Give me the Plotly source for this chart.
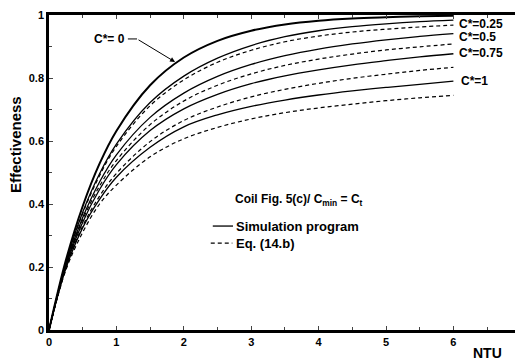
import plotly.graph_objects as go

ntu = [0, 0.25, 0.5, 0.75, 1, 1.5, 2, 2.5, 3, 3.5, 4, 4.5, 5, 5.5, 6]

# C* = 0 (simulation and equation coincide)
c0 = [0, 0.221, 0.393, 0.528, 0.632, 0.777, 0.865, 0.918, 0.950, 0.970, 0.982, 0.989, 0.993, 0.996, 0.9975]

sim_025 = [0, 0.214, 0.374, 0.496, 0.590, 0.722, 0.806, 0.863, 0.903, 0.931, 0.950, 0.963, 0.972, 0.979, 0.984]
sim_050 = [0, 0.207, 0.357, 0.470, 0.556, 0.675, 0.752, 0.805, 0.843, 0.871, 0.892, 0.908, 0.921, 0.932, 0.941]
sim_075 = [0, 0.202, 0.342, 0.446, 0.525, 0.633, 0.702, 0.748, 0.782, 0.807, 0.826, 0.842, 0.855, 0.867, 0.877]
sim_100 = [0, 0.195, 0.325, 0.415, 0.485, 0.580, 0.645, 0.683, 0.710, 0.730, 0.746, 0.759, 0.770, 0.780, 0.790]

eq_025 = [0, 0.212, 0.370, 0.490, 0.583, 0.712, 0.794, 0.850, 0.888, 0.915, 0.933, 0.946, 0.955, 0.962, 0.968]
eq_050 = [0, 0.205, 0.350, 0.457, 0.538, 0.652, 0.727, 0.777, 0.813, 0.840, 0.860, 0.876, 0.889, 0.899, 0.908]
eq_075 = [0, 0.197, 0.330, 0.425, 0.497, 0.598, 0.665, 0.708, 0.740, 0.764, 0.783, 0.799, 0.812, 0.824, 0.834]
eq_100 = [0, 0.190, 0.310, 0.400, 0.460, 0.550, 0.607, 0.643, 0.670, 0.690, 0.705, 0.717, 0.728, 0.737, 0.745]

curve_labels = ["C*=0.25", "C*=0.5", "C*=0.75", "C*=1"]
label_y = [0.971, 0.929, 0.878, 0.790]
label_x = [6.05, 6.05, 6.05, 6.08]

FONT = "Liberation Sans, Arial, sans-serif"
W, H = 515, 360
L, R, T, B = 49, 0, 15, 30
pw, ph = W - L - R, H - T - B


def px_to_paper(px, py):
    return (px - L) / pw, (H - B - py) / ph


fig = go.Figure()

fig.add_trace(go.Scatter(x=ntu, y=c0, mode="lines", line=dict(color="black", width=2, shape="spline"),
                         showlegend=False))
for s in [sim_025, sim_050, sim_075, sim_100]:
    fig.add_trace(go.Scatter(x=ntu, y=s, mode="lines",
                             line=dict(color="black", width=1.3, shape="spline"), showlegend=False))
for e in [eq_025, eq_050, eq_075, eq_100]:
    fig.add_trace(go.Scatter(x=ntu, y=e, mode="lines",
                             line=dict(color="black", width=1.2, dash="4px,3px", shape="spline"),
                             showlegend=False))

bold = lambda s: dict(size=s, family=FONT, color="black", weight="bold")
ann = []
for t, xx, yy in zip(curve_labels, label_x, label_y):
    ann.append(dict(x=xx, y=yy, xref="x", yref="y", text=t, showarrow=False, xanchor="left",
                    yanchor="middle", font=bold(12)))

# C*=0 label with leader and arrow
ann.append(dict(x=1.157, y=0.924, xref="x", yref="y", text="C*= 0", showarrow=False, xanchor="right",
                yanchor="middle", font=bold(12)))
ann.append(dict(x=1.87, y=0.851, xref="x", yref="y", text="", showarrow=True, ax=1.306, ay=0.924,
                axref="x", ayref="y", arrowhead=2, arrowsize=1, arrowwidth=1, arrowcolor="black"))

# legend block
ann.append(dict(x=2.73, y=0.413, xref="x", yref="y", text="Coil Fig. 5(c)/ C<sub>min</sub> = C<sub>t</sub>",
                showarrow=False, xanchor="left", yanchor="middle", font=bold(12)))
ann.append(dict(x=2.745, y=0.330, xref="x", yref="y", text="Simulation program", showarrow=False,
                xanchor="left", yanchor="middle", font=bold(13)))
ann.append(dict(x=2.745, y=0.276, xref="x", yref="y", text="Eq. (14.b)", showarrow=False,
                xanchor="left", yanchor="middle", font=bold(13)))

# axis titles
ex, ey = px_to_paper(15, 145)
ann.append(dict(x=ex, y=ey, xref="paper", yref="paper", text="Effectiveness", showarrow=False, textangle=-90,
                xanchor="center", yanchor="middle", font=bold(15)))
nx, ny = px_to_paper(487, 353)
ann.append(dict(x=nx, y=ny, xref="paper", yref="paper", text="NTU", showarrow=False,
                xanchor="center", yanchor="middle", font=bold(14)))

shapes = [
    dict(type="line", xref="x", yref="y", x0=1.17, x1=1.306, y0=0.924, y1=0.924, line=dict(color="black", width=1)),
    dict(type="line", xref="x", yref="y", x0=2.43, x1=2.73, y0=0.330, y1=0.330, line=dict(color="black", width=1.3)),
    dict(type="line", xref="x", yref="y", x0=2.40, x1=2.72, y0=0.276, y1=0.276,
         line=dict(color="black", width=1.2, dash="4px,3px")),
]

fig.update_layout(
    width=W, height=H, margin=dict(l=L, r=R, t=T, b=B),
    paper_bgcolor="white", plot_bgcolor="white",
    annotations=ann, shapes=shapes, showlegend=False,
    font=dict(family=FONT, color="black"),
)
fig.update_xaxes(range=[0, (W - L) / 67.4], tickvals=[0, 1, 2, 3, 4, 5, 6], ticks="inside", ticklen=4,
                 tickwidth=1, showline=True, linewidth=2.5, linecolor="black", mirror="ticks",
                 showgrid=False, zeroline=False,
                 minor=dict(dtick=0.5, ticks="inside", ticklen=3, tickwidth=1, showgrid=False),
                 tickfont=bold(11))
fig.update_yaxes(range=[0, 1], tickvals=[0, 0.2, 0.4, 0.6, 0.8, 1], ticktext=["0", "0.2", "0.4", "0.6", "0.8", "1"],
                 ticks="inside", ticklen=4, tickwidth=1, showline=True, linewidth=2.5, linecolor="black",
                 mirror=False, showgrid=False, zeroline=False,
                 minor=dict(dtick=0.1, ticks="inside", ticklen=3, tickwidth=1, showgrid=False),
                 tickfont=bold(11))

fig.write_html("out.html")
